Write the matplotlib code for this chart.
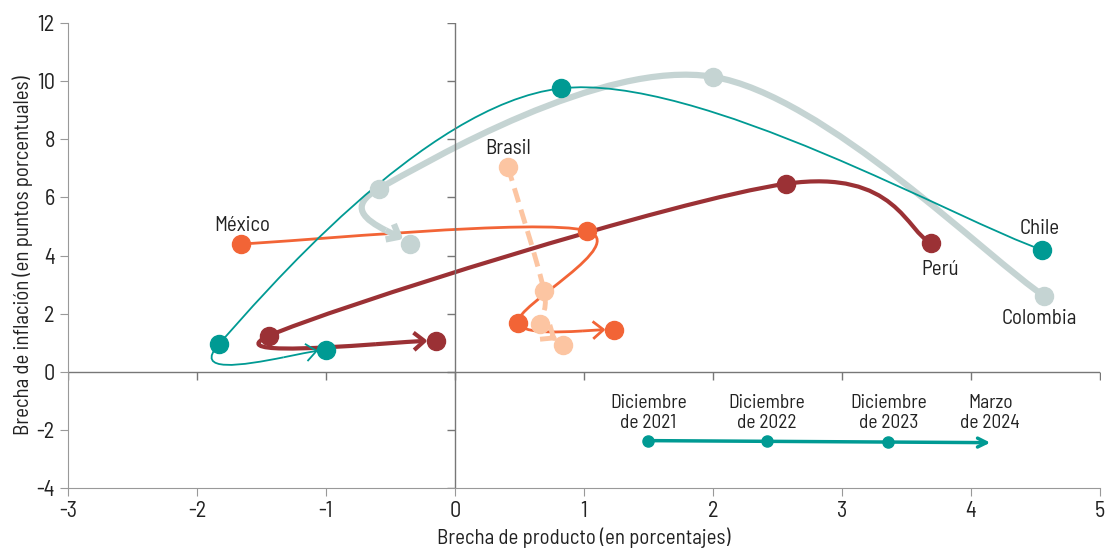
import matplotlib.pyplot as plt
import numpy as np
from matplotlib.path import Path
from matplotlib.patches import FancyArrowPatch, PathPatch
from matplotlib.bezier import split_de_casteljau

plt.rcParams['font.family'] = ['Barlow Semi Condensed', 'Roboto Condensed', 'DejaVu Sans']
plt.rcParams['axes.unicode_minus'] = False

# data: (output gap, inflation gap) Dec21, Dec22, Dec23, Mar24
chile_x = [4.55, 0.82, -1.83, -1.00]
chile_y = [4.20, 9.75, 0.95, 0.75]
colombia_x = [4.57, 2.00, -0.59, -0.35]
colombia_y = [2.60, 10.15, 6.30, 4.40]
peru_x = [3.69, 2.57, -1.44, -0.15]
peru_y = [4.44, 6.47, 1.24, 1.07]
mexico_x = [-1.66, 1.02, 0.49, 1.23]
mexico_y = [4.40, 4.85, 1.69, 1.45]
brasil_x = [0.41, 0.69, 0.66, 0.84]
brasil_y = [7.05, 2.79, 1.65, 0.93]

legend_labels = ['Diciembre\nde 2021', 'Diciembre\nde 2022', 'Diciembre\nde 2023', 'Marzo\nde 2024']
legend_x = [1.50, 2.42, 3.36, 4.15]
legend_y = [-2.37, -2.39, -2.41, -2.44]

teal = '#009a93'
gray = '#c5d4d3'
red = '#9b3135'
orange = '#f26436'
peach = '#fcc5a2'
txt = '#222222'


def catmull_bezier(xs, ys):
    # list of cubic segments (4 control points each) through the points
    p = np.column_stack([xs, ys])
    p = np.vstack([p[0], p, p[-1]])
    segs = []
    for i in range(1, len(p) - 2):
        c1 = p[i] + (p[i + 1] - p[i - 1]) / 6
        c2 = p[i + 1] - (p[i + 2] - p[i]) / 6
        segs.append(np.array([p[i], c1, c2, p[i + 1]]))
    return segs


def cut_at_distance(seg, dist_px, ax):
    # split a cubic where its pixel distance to the end point equals dist_px
    end = ax.transData.transform(seg[-1])
    lo, hi = 0.0, 1.0
    for _ in range(40):
        mid = (lo + hi) / 2
        left, _r = split_de_casteljau(seg, mid)
        d = np.hypot(*(ax.transData.transform(left[-1]) - end))
        if d > dist_px:
            lo = mid
        else:
            hi = mid
    return split_de_casteljau(seg, lo)


def to_path(segs):
    verts = [segs[0][0]]
    codes = [Path.MOVETO]
    for s in segs:
        verts += list(s[1:])
        codes += [Path.CURVE4] * 3
    return Path(verts, codes)


fig = plt.figure(figsize=(11.06, 5.48), dpi=100)
ax = fig.add_axes([0.0615, 0.1095, 0.933, 0.8485])
ax.set_xlim(-3, 5)
ax.set_ylim(-4, 12)

series = [
    (mexico_x, mexico_y, orange, 2.0, '-'),
    (brasil_x, brasil_y, peach, 3.5, (0, (3, 1.6))),
    (peru_x, peru_y, red, 3.0, '-'),
    (colombia_x, colombia_y, gray, 4.5, '-'),
    (chile_x, chile_y, teal, 1.3, '-'),
]
for xs, ys, c, lw, ls in series:
    segs = catmull_bezier(xs, ys)
    body, _ = cut_at_distance(segs[-1], 8, ax)
    rest, head = split_de_casteljau(body, 0.75)
    main = segs[:-1] + [np.array(rest)]
    ax.add_patch(PathPatch(to_path(main), fc='none', ec=c, lw=lw, ls=ls, capstyle='butt'))
    ax.add_patch(FancyArrowPatch(path=to_path([np.array(head)]),
                                 arrowstyle='->, head_length=0.4, head_width=0.33',
                                 mutation_scale=19, color=c, lw=lw, capstyle='butt'))
    ax.plot(xs, ys, 'o', ms=13, color=c, ls='none', zorder=3)

# country labels
ax.text(-1.65, 5.03, 'México', ha='center', va='center', fontsize=15, color=txt)
ax.text(0.41, 7.68, 'Brasil', ha='center', va='center', fontsize=15, color=txt)
ax.text(4.53, 4.93, 'Chile', ha='center', va='center', fontsize=15, color=txt)
ax.text(3.76, 3.51, 'Perú', ha='center', va='center', fontsize=15, color=txt)
ax.text(4.53, 1.82, 'Colombia', ha='center', va='center', fontsize=15, color=txt)

# timeline legend
ax.annotate('', xy=(legend_x[-1], legend_y[-1]), xytext=(legend_x[0], legend_y[0]),
            arrowprops=dict(arrowstyle='->', color=teal, lw=2.5, mutation_scale=16,
                            shrinkA=0, shrinkB=0))
ax.plot(legend_x[:3], legend_y[:3], 'o', ms=8, color=teal, zorder=3)
for lx, lab in zip(legend_x, legend_labels):
    ax.text(lx, -1.42, lab, ha='center', va='center', fontsize=14, color=txt,
            linespacing=1.1)

# zero axes with ticks
ax.axhline(0, color='#777777', lw=1, zorder=1)
ax.axvline(0, color='#777777', lw=1, zorder=1)
xt = np.arange(-3, 6)
yt = np.arange(-4, 13, 2)
ax.plot(xt, np.zeros(len(xt)), ls='none', marker=3, ms=6, mew=1, color='#777777', zorder=1)
ax.plot(np.zeros(len(yt)), yt, ls='none', marker=0, ms=6, mew=1, color='#777777', zorder=1)

ax.set_xticks(xt)
ax.set_yticks(yt)
for s in ['top', 'right']:
    ax.spines[s].set_visible(False)
for s in ['left', 'bottom']:
    ax.spines[s].set_color('#999999')
ax.tick_params(colors='#999999', labelcolor=txt, labelsize=16, length=6)
ax.set_xlabel('Brecha de producto (en porcentajes)', fontsize=15, color=txt, labelpad=4)
ax.set_ylabel('Brecha de inflación (en puntos porcentuales)', fontsize=15, color=txt,
              labelpad=2.5)

fig.savefig('out.png', dpi=100)
